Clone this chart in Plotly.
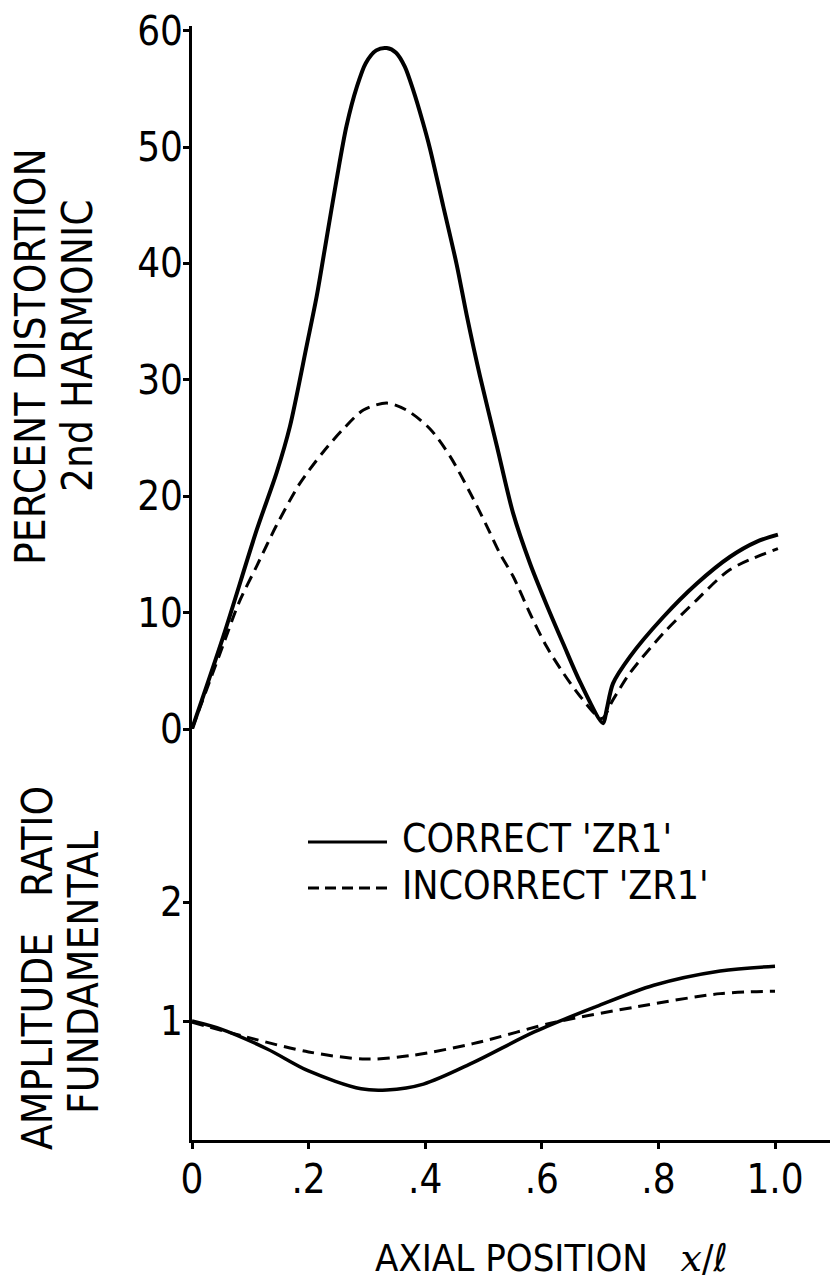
import plotly.graph_objects as go

# ---------------- data ----------------
x_top_correct = [0, 0.054, 0.111, 0.145, 0.168, 0.197, 0.214, 0.231, 0.248, 0.265, 0.283,
                 0.298, 0.316, 0.334, 0.350, 0.365, 0.380, 0.395, 0.408, 0.431, 0.454,
                 0.471, 0.494, 0.523, 0.551, 0.58, 0.608, 0.637, 0.666, 0.705, 0.711,
                 0.722, 0.751, 0.808, 0.866, 0.923, 0.969, 1.005]
y_top_correct = [0, 8.0, 17.1, 22.0, 26.0, 33.0, 37.2, 42.2, 47.2, 51.8, 55.2,
                 57.2, 58.3, 58.5, 58.1, 56.9, 54.8, 52.3, 49.9, 44.9, 39.9,
                 35.6, 30.3, 24.3, 18.5, 14.2, 10.7, 7.3, 4.0, 0.5, 1.6,
                 3.9, 6.2, 9.6, 12.5, 14.8, 16.1, 16.7]

x_top_incorrect = [0, 0.054, 0.08, 0.111, 0.145, 0.185, 0.225, 0.26, 0.294, 0.334, 0.368,
                   0.408, 0.443, 0.477, 0.505, 0.528, 0.551, 0.58, 0.608, 0.637, 0.666,
                   0.703, 0.722, 0.751, 0.808, 0.866, 0.923, 1.005]
y_top_incorrect = [0, 7.3, 10.8, 14.0, 17.5, 21.1, 23.8, 25.8, 27.4, 28.0, 27.4,
                   25.8, 23.4, 20.3, 17.5, 15.1, 13.1, 9.9, 7.1, 4.8, 2.8,
                   0.9, 2.5, 4.8, 8.2, 11.1, 13.7, 15.5]

x_bot_correct = [0, 0.051, 0.129, 0.2, 0.29, 0.334, 0.397, 0.482, 0.588, 0.693, 0.792, 0.906, 1.0]
y_bot_correct = [1.0, 0.93, 0.765, 0.58, 0.43, 0.42, 0.47, 0.65, 0.91, 1.12, 1.30, 1.42, 1.46]

x_bot_incorrect = [0, 0.094, 0.2, 0.298, 0.376, 0.482, 0.623, 0.764, 0.906, 1.0]
y_bot_incorrect = [0.99, 0.865, 0.74, 0.68, 0.71, 0.81, 0.99, 1.12, 1.23, 1.25]

x_tickvals = [0, 0.2, 0.4, 0.6, 0.8, 1.0]
x_ticktext = ["0", ".2", ".4", ".6", ".8", "1.0"]
y_top_ticks = [0, 10, 20, 30, 40, 50, 60]
y_bot_ticks = [1, 2]

legend_labels = ["CORRECT 'ZR1'", "INCORRECT 'ZR1'"]

# ---------------- layout helpers ----------------
W, H = 830, 1283
L, R, T, B = 192, 0, 26, 143
PW, PH = W - L - R, H - T - B
split_px = 729  # boundary between the two panels


def px(xp):
    return (xp - L) / PW


def py(yp):
    return (H - B - yp) / PH


FONT = "Liberation Sans Narrow, DejaVu Sans Condensed, Roboto Condensed, Liberation Sans, sans-serif"
split = py(split_px)

fig = go.Figure()
solid = dict(color="black", width=4)
dashed = dict(color="black", width=3, dash="12px,7px")

fig.add_trace(go.Scatter(x=x_top_correct, y=y_top_correct, mode="lines", line=solid,
                         line_shape="spline", line_smoothing=0.8, name=legend_labels[0],
                         showlegend=False, xaxis="x", yaxis="y"))
fig.add_trace(go.Scatter(x=x_top_incorrect, y=y_top_incorrect, mode="lines", line=dashed,
                         line_shape="spline", line_smoothing=0.8, name=legend_labels[1],
                         showlegend=False, xaxis="x", yaxis="y"))
fig.add_trace(go.Scatter(x=x_bot_correct, y=y_bot_correct, mode="lines", line=dict(color="black", width=3.5),
                         line_shape="spline", line_smoothing=0.9, name=legend_labels[0],
                         showlegend=False, xaxis="x", yaxis="y2"))
fig.add_trace(go.Scatter(x=x_bot_incorrect, y=y_bot_incorrect, mode="lines", line=dashed,
                         line_shape="spline", line_smoothing=0.9, name=legend_labels[1],
                         showlegend=False, xaxis="x", yaxis="y2"))

tickfont = dict(family=FONT, size=40, color="black")
common_axis = dict(showline=True, linecolor="black", linewidth=3,
                   ticks="outside", ticklen=6, tickwidth=3, tickcolor="black",
                   showgrid=False, zeroline=False, tickfont=tickfont)

fig.update_layout(
    width=W, height=H,
    margin=dict(l=L, r=R, t=T, b=B, pad=0),
    paper_bgcolor="white", plot_bgcolor="white",
    showlegend=False,
    xaxis=dict(domain=[0, 1], anchor="y2", range=[0, PW / 583.0],
               tickvals=x_tickvals, ticktext=x_ticktext, ticklabelstandoff=-4, **common_axis),
    yaxis=dict(domain=[split, 1], anchor="x", range=[0, (split_px - T) / 11.64],
               tickvals=y_top_ticks, ticktext=[str(v) for v in y_top_ticks],
               ticklabelstandoff=-8, **common_axis),
    yaxis2=dict(domain=[0, split], anchor="x", range=[0, (H - B - split_px) / 119.0],
                tickvals=y_bot_ticks, ticktext=[str(v) for v in y_bot_ticks],
                ticklabelstandoff=-8, **common_axis),
)

txt = dict(family=FONT, size=42, color="black")
ann = []
ann.append(dict(x=px(30), y=py(357), text="PERCENT DISTORTION", textangle=-90, font=txt))
ann.append(dict(x=px(78), y=py(346), text="2nd HARMONIC", textangle=-90, font=txt))
ann.append(dict(x=px(37), y=py(968), text="AMPLITUDE\u00a0\u00a0 RATIO", textangle=-90, font=txt))
ann.append(dict(x=px(83), y=py(973), text="FUNDAMENTAL", textangle=-90, font=txt))
legfont = dict(family=FONT, size=39, color="black")
ann.append(dict(x=px(400), y=py(838), text=legend_labels[0], xanchor="left", font=legfont))
ann.append(dict(x=px(400), y=py(885), text=legend_labels[1], xanchor="left", font=legfont))
ann.append(dict(x=px(551), y=py(1282), yanchor="bottom",
                text="AXIAL POSITION\u00a0\u00a0 <span style=\"font-family:'DejaVu Serif';font-style:italic\">x</span>/\u2113",
                font=dict(family=FONT, size=38, color="black")))
for a in ann:
    a.update(xref="paper", yref="paper", showarrow=False,
             yanchor=a.get("yanchor", "middle"),
             xanchor=a.get("xanchor", "center"))
fig.update_layout(annotations=ann)

# legend keys
fig.add_shape(type="line", xref="paper", yref="paper", x0=px(308), x1=px(387), y0=py(842), y1=py(842),
              line=dict(color="black", width=3))
fig.add_shape(type="line", xref="paper", yref="paper", x0=px(308), x1=px(387), y0=py(888), y1=py(888),
              line=dict(color="black", width=3, dash="11px,6px"))

fig.write_html("out.html")
